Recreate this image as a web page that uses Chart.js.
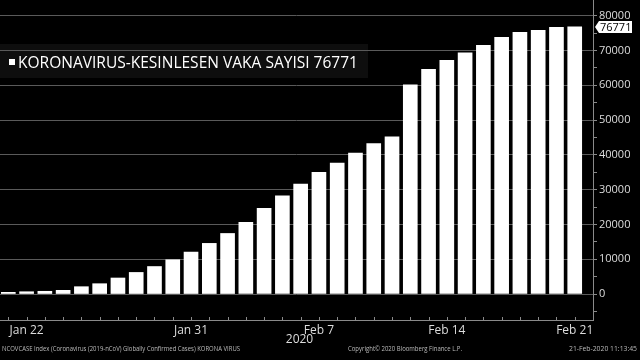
<!DOCTYPE html>
<html>
<head>
<meta charset="utf-8">
<script src="https://cdn.jsdelivr.net/npm/chart.js@4/dist/chart.umd.min.js"></script>
<style>
  html, body { margin: 0; padding: 0; background: #000; }
  #grafico { display: block; background: #000; }
</style>
</head>
<body>
<canvas id="grafico" width="640" height="360"></canvas>
<script>
// dias do grafico (Jan 21 .. Feb 21)
const dias = ['Jan 21', 'Jan 22', 'Jan 23', 'Jan 24', 'Jan 25', 'Jan 26', 'Jan 27', 'Jan 28', 'Jan 29', 'Jan 30',
    'Jan 31', 'Feb 1', 'Feb 2', 'Feb 3', 'Feb 4', 'Feb 5', 'Feb 6', 'Feb 7', 'Feb 8', 'Feb 9', 'Feb 10',
    'Feb 11', 'Feb 12', 'Feb 13', 'Feb 14', 'Feb 15', 'Feb 16', 'Feb 17', 'Feb 18', 'Feb 19', 'Feb 20', 'Feb 21']
const casos = [480, 650, 780, 1060, 2100, 2960, 4600, 6200, 7900, 9850,
    12050, 14550, 17400, 20600, 24600, 28250, 31600, 34950, 37650, 40500, 43250,
    45200, 60100, 64550, 67150, 69350, 71450, 73750, 75200, 75750, 76650, 76771]
const rotulosX = ['Jan 22', 'Jan 31', 'Feb 7', 'Feb 14', 'Feb 21']
const ticksY = [-5000, 0, 5000, 10000, 15000, 20000, 25000, 30000, 35000, 40000, 45000, 50000, 55000, 60000, 65000, 70000, 75000, 80000]
const nomeSerie = 'KORONAVIRUS-KESINLESEN VAKA SAYISI'
const anoEixo = '2020'
const rodape = ['NCOVCASE Index (Coronavirus (2019-nCoV) Globally Confirmed Cases) KORONA VIRUS',
    'Copyright\u00A9 2020 Bloomberg Finance L.P.', '21-Feb-2020 11:13:45']

const fonte = "'Open Sans', 'DejaVu Sans', sans-serif"
const ultimoValor = casos[casos.length - 1]

const fundoELegenda = {
    id: 'fundoELegenda',
    beforeDraw(chart) {
        const c = chart.ctx
        c.save()
        c.fillStyle = '#000'
        c.fillRect(0, 0, chart.width, chart.height)
        // caixa da legenda
        c.fillStyle = '#0e0e0e'
        c.fillRect(0, 44, 368, 34)
        c.fillStyle = '#fff'
        c.fillRect(9, 59, 6, 6)
        c.font = '17px ' + fonte
        c.textBaseline = 'alphabetic'
        c.fillText(nomeSerie + ' ' + ultimoValor, 18, 68, 340)
        c.restore()
    },
    afterDraw(chart) {
        const c = chart.ctx
        const area = chart.chartArea
        const x = chart.scales.x
        const y = chart.scales.y
        c.save()
        // marcas diarias no eixo x (para cima)
        c.strokeStyle = '#8a8a8a'
        c.lineWidth = 1
        x.ticks.forEach(t => {
            const px = Math.round(x.getPixelForValue(t.value)) + 0.5
            c.beginPath()
            c.moveTo(px, area.bottom)
            c.lineTo(px, area.bottom - 3)
            c.stroke()
        })
        // etiqueta do ultimo valor
        const yv = y.getPixelForValue(ultimoValor)
        c.fillStyle = '#fff'
        c.beginPath()
        c.moveTo(595, yv)
        c.lineTo(599, yv - 6)
        c.lineTo(632, yv - 6)
        c.lineTo(632, yv + 6)
        c.lineTo(599, yv + 6)
        c.closePath()
        c.fill()
        c.fillStyle = '#000'
        c.font = '11px ' + fonte
        c.textBaseline = 'middle'
        c.textAlign = 'left'
        c.fillText(String(ultimoValor), 600, yv + 0.5)
        // ano
        c.fillStyle = '#ddd'
        c.font = '12px ' + fonte
        c.textAlign = 'center'
        c.fillText(anoEixo, (area.left + area.right) / 2 + 3, 340)
        // rodape
        c.fillStyle = '#bbb'
        c.font = '7px ' + fonte
        c.textAlign = 'left'
        c.fillText(rodape[0], 2, 349, 238)
        c.fillText(rodape[1], 348, 349, 114)
        c.textAlign = 'right'
        c.fillText(rodape[2], 637, 349, 68)
        c.restore()
    }
}

const grafico = new Chart(document.getElementById('grafico'), {
    type: 'bar',
    data: {
        datasets: [{
            label: nomeSerie,
            data: casos.map((v, i) => ({ x: i, y: v })),
            backgroundColor: '#fff',
            borderWidth: 0,
            barThickness: 14
        }]
    },
    options: {
        responsive: false,
        animation: false,
        layout: { padding: 0 },
        plugins: {
            legend: { display: false },
            tooltip: { enabled: false }
        },
        scales: {
            x: {
                type: 'linear',
                offset: false,
                min: -0.455,
                max: 32.0,
                grid: {
                    drawOnChartArea: false,
                    drawTicks: false
                },
                border: { color: '#8a8a8a', width: 1 },
                afterBuildTicks: s => { s.ticks = dias.map((d, i) => ({ value: i })) },
                ticks: {
                    autoSkip: false,
                    maxRotation: 0,
                    padding: 3,
                    color: '#ddd',
                    font: { size: 12, family: fonte },
                    callback: v => rotulosX.includes(dias[v]) ? dias[v] : ''
                },
                afterFit: s => {
                    s.height = 40
                    s.paddingLeft = 0
                    s.paddingRight = 0
                }
            },
            y: {
                position: 'right',
                min: -7470,
                max: 84500,
                grid: {
                    color: ctx => (ctx.tick && ctx.tick.value >= 0 && ctx.tick.value % 10000 === 0) ? '#5a5a5a' : 'rgba(0,0,0,0)',
                    tickColor: '#8a8a8a',
                    tickLength: 4,
                    drawTicks: true
                },
                border: { color: '#8a8a8a', width: 1 },
                afterBuildTicks: s => { s.ticks = ticksY.map(v => ({ value: v })) },
                ticks: {
                    autoSkip: false,
                    padding: 2,
                    color: '#ddd',
                    font: { size: 11, family: fonte },
                    callback: v => (v >= 0 && v % 10000 === 0) ? String(v) : ''
                },
                afterFit: s => {
                    s.width = 47
                    s.paddingTop = 0
                    s.paddingBottom = 0
                }
            }
        }
    },
    plugins: [fundoELegenda]
})
</script>
</body>
</html>
